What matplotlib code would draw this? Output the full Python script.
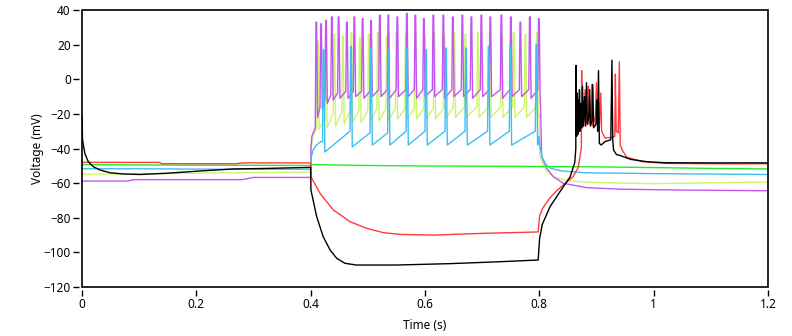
import matplotlib
matplotlib.use("Agg")
import matplotlib.pyplot as plt
from matplotlib.patches import Rectangle
from matplotlib.ticker import FuncFormatter

# ---- data (time in s, voltage in mV) ----

# black: hyperpolarising step, rebound burst
black_t = [0.0, 0.001, 0.005, 0.011, 0.0198, 0.0315, 0.049, 0.0723, 0.1015, 0.148, 0.206, 0.265, 0.323, 0.4,
           0.4005, 0.4106, 0.422, 0.434, 0.4455, 0.46, 0.48, 0.55, 0.644, 0.731, 0.798,
           0.8005, 0.805, 0.8187, 0.836, 0.854, 0.862, 0.8638,
           0.8642, 0.8652, 0.8662, 0.8672, 0.8682, 0.8692, 0.8702, 0.8712, 0.8725, 0.874, 0.8755, 0.877,
           0.879, 0.8805, 0.8825, 0.884, 0.8865, 0.888, 0.8895, 0.892, 0.8935, 0.895, 0.899, 0.9005, 0.902,
           0.9035, 0.905, 0.908, 0.915, 0.925, 0.927, 0.9285, 0.93, 0.935, 0.941, 0.96, 0.988, 1.02, 1.1, 1.2]
black_v = [-20.7, -35.0, -42.8, -47.6, -50.5, -52.4, -54.0, -54.7, -55.0, -54.3, -53.0, -51.8, -51.5, -50.9,
           -64.0, -79.4, -91.0, -98.6, -103.4, -106.3, -107.3, -107.3, -106.5, -105.4, -104.4,
           -92.0, -84.0, -73.6, -65.0, -56.3, -48.0, -40.0,
           8.0, -33.0, -8.0, -32.0, -12.0, -30.0, -6.0, -30.0, -14.0, -28.0, -4.0, -27.0,
           -10.0, -27.0, -2.0, -26.0, -22.0, -6.0, -27.0, -24.0, -3.0, -28.0, -26.0, -12.0, -30.0,
           5.0, -37.0, -38.0, -36.0, -35.0, 11.0, -36.0, -41.0, -43.5, -44.0, -46.3, -47.6, -48.2, -48.3, -48.3]

# red: smaller hyperpolarising step, rebound burst
red_t = [0.0, 0.135, 0.14, 0.27, 0.28, 0.4,
         0.4005, 0.4164, 0.4397, 0.469, 0.498, 0.527, 0.556, 0.615, 0.702, 0.798,
         0.8005, 0.805, 0.813, 0.8187, 0.83, 0.842, 0.859, 0.868, 0.8735,
         0.874, 0.8755, 0.8785, 0.88, 0.8815, 0.8845, 0.8857, 0.887, 0.89, 0.8916, 0.893, 0.898, 0.9,
         0.9015, 0.905, 0.9075, 0.909, 0.915, 0.928, 0.932, 0.933, 0.9345, 0.938, 0.94, 0.9415,
         0.945, 0.953, 0.98, 1.02, 1.1, 1.2]
red_v = [-48.0, -48.0, -48.8, -48.8, -48.3, -48.3,
         -56.3, -65.9, -75.5, -82.3, -86.1, -88.6, -89.6, -90.0, -89.0, -88.2,
         -79.0, -75.0, -71.0, -68.5, -64.5, -61.0, -56.3, -51.0, -40.0,
         5.0, -28.0, -22.0, -6.0, -27.0, -22.0, -4.0, -26.0, -22.0, -3.0, -27.0, -22.0, -2.0,
         -25.0, -28.0, -8.0, -30.0, -34.0, -33.5, -33.0, 3.0, -30.0, -31.0, 10.0, -38.0,
         -41.0, -45.0, -47.6, -48.6, -48.8, -48.8]

# green: no firing
green_t = [0.0, 0.1, 0.2, 0.4, 0.401, 0.5, 0.6, 0.7, 0.8, 0.9, 1.0, 1.1, 1.2]
green_v = [-49.3, -49.5, -49.6, -49.8, -49.3, -49.8, -50.1, -50.2, -50.4, -50.6, -51.0, -51.5, -51.8]

# blue: slow tonic firing
blue_on_t = [0.0, 0.1, 0.25, 0.4, 0.4005, 0.404, 0.41, 0.418]
blue_on_v = [-51.7, -51.7, -52.0, -52.0, -46.0, -41.0, -38.0, -36.0]
blue_spk_t = [0.4221, 0.4700, 0.5050, 0.5358, 0.5680, 0.6012, 0.6362, 0.6712, 0.7107, 0.7487, 0.7942]
blue_peak = [17, 19, 18, 17, 18, 17, 18, 18, 19, 19, 20]
blue_trough = [-42, -39, -38, -38, -38, -38, -38, -38, -38, -38, -38]
blue_pre = [-36, -30, -31, -31, -30, -30, -30, -30, -30, -30, -30]
blue_off_t = [0.799, 0.8015, 0.806, 0.812, 0.82, 0.84, 0.88, 1.0, 1.2]
blue_off_v = [-33.0, -40.0, -46.0, -49.5, -51.5, -53.0, -54.0, -54.5, -55.0]

# yellow-green: faster tonic firing
yellow_on_t = [0.0, 0.2, 0.38, 0.4, 0.4005, 0.405]
yellow_on_v = [-54.9, -54.3, -53.6, -53.6, -40.0, -32.0]
yellow_spk_t = [0.4120, 0.4260, 0.4408, 0.4557, 0.4706, 0.4854, 0.5012, 0.5169, 0.5327, 0.5493, 0.5659, 0.5825,
                0.5991, 0.6158, 0.6332, 0.6507, 0.6700, 0.6919, 0.7128, 0.7338, 0.7545, 0.7750, 0.7954]
yellow_peak = [22, 24, 26, 25, 27, 24, 26, 27, 25, 27, 26, 27, 25, 27, 26, 27, 26, 27, 27, 26, 27, 26, 27]
yellow_trough = [-29, -28, -27, -26, -25, -25, -24, -24, -24, -23, -23, -23, -23, -23, -23, -22, -22, -22,
                 -22, -22, -22, -22, -22]
yellow_pre = [-28, -22, -20, -19, -18, -18, -18, -17, -17, -17, -17, -17, -17, -17, -17, -16, -16, -16,
              -16, -16, -16, -16, -16]
yellow_off_t = [0.7995, 0.801, 0.8105, 0.8245, 0.85, 0.883, 0.95, 1.0, 1.1, 1.2]
yellow_off_v = [-20.0, -44.7, -52.4, -56.3, -58.6, -59.5, -60.0, -60.3, -59.8, -59.4]

# purple: fastest tonic firing
purple_on_t = [0.0, 0.08, 0.09, 0.28, 0.3, 0.4, 0.4005, 0.402]
purple_on_v = [-58.8, -58.8, -58.0, -58.0, -56.7, -56.7, -40.0, -33.0]
purple_spk_t = [0.4093, 0.4176, 0.4263, 0.4365, 0.4484, 0.4627, 0.4758, 0.4903, 0.5050, 0.5204, 0.5353,
                0.5510, 0.5677, 0.5825, 0.5974, 0.6140, 0.6315, 0.6481, 0.6647, 0.6805, 0.6980, 0.7137,
                0.7330, 0.7496, 0.7662, 0.7828, 0.7986]
purple_peak = [33, 32, 34, 36, 36, 33, 36, 35, 34, 37, 37, 36, 38, 37, 35, 37, 37, 36, 37, 36, 37, 36,
               37, 36, 33, 36, 35]
purple_trough = [-22, -17, -14, -12, -11, -11, -10, -11, -10, -10, -11, -10, -10, -11, -10, -10, -11, -10,
                 -10, -11, -10, -10, -11, -10, -10, -11, -10]
purple_pre = [-28, -16, -12, -9, -8, -7, -7, -7, -7, -6, -6, -6, -6, -6, -6, -6, -6, -6,
              -6, -6, -6, -6, -6, -6, -6, -6, -6]
purple_off_t = [0.8025, 0.804, 0.813, 0.8245, 0.842, 0.883, 0.941, 1.05, 1.2]
purple_off_v = [-20.0, -44.7, -51.5, -56.3, -60.1, -62.6, -63.5, -64.0, -64.4]

x_ticks = [0, 0.2, 0.4, 0.6, 0.8, 1.0, 1.2]
y_ticks = [-120, -100, -80, -60, -40, -20, 0, 20, 40]


def spike_trace(on_t, on_v, spk_t, peak, trough, pre, off_t, off_v):
    """Join the read-off spike features into one polyline."""
    ts = list(on_t)
    vs = list(on_v)
    for t, pk, tr, pr in zip(spk_t, peak, trough, pre):
        # flat top a pixel wide, then down to the after-hyperpolarisation
        ts += [t - 0.0012, t, t + 0.0012, t + 0.0028]
        vs += [pr, pk, pk, tr]
    ts += list(off_t)
    vs += list(off_v)
    return ts, vs


def main():
    plt.rcParams['font.family'] = ['Noto Sans', 'DejaVu Sans']
    fig = plt.figure(figsize=(7.92, 3.36), dpi=100)
    ax = fig.add_axes([0.1035, 0.1458, 0.8662, 0.8244])

    lw = 1.0
    yt, yv = spike_trace(yellow_on_t, yellow_on_v, yellow_spk_t, yellow_peak, yellow_trough, yellow_pre,
                         yellow_off_t, yellow_off_v)
    pt, pv = spike_trace(purple_on_t, purple_on_v, purple_spk_t, purple_peak, purple_trough, purple_pre,
                         purple_off_t, purple_off_v)
    bt, bv = spike_trace(blue_on_t, blue_on_v, blue_spk_t, blue_peak, blue_trough, blue_pre,
                         blue_off_t, blue_off_v)

    ax.plot(yt, yv, color='#ccf56a', lw=lw)
    ax.plot(pt, pv, color='#c455f2', lw=lw)
    ax.plot(bt, bv, color='#3dbef5', lw=lw)
    ax.plot(green_t, green_v, color='#22ee22', lw=lw)
    ax.plot(red_t, red_v, color='#ff3b3b', lw=lw)
    ax.plot(black_t, black_v, color='black', lw=lw)

    ax.set_xlim(0, 1.2)
    ax.set_ylim(-120, 40)
    ax.set_xticks(x_ticks)
    ax.set_yticks(y_ticks)
    ax.xaxis.set_major_formatter(FuncFormatter(lambda v, p: f"{v:g}"))

    # frame drawn as a box, ticks sit a little off it
    for side in ['bottom', 'left']:
        ax.spines[side].set_position(('outward', 2))
        ax.spines[side].set_visible(False)
    for side in ['top', 'right']:
        ax.spines[side].set_visible(False)
    ax.add_patch(Rectangle((0, 0), 1, 1, transform=ax.transAxes, fill=False,
                           edgecolor='black', lw=1.2, clip_on=False, zorder=5))

    ax.tick_params(direction='out', length=4, width=1, pad=2, labelsize=8.5, colors='black')
    ax.set_xlabel("Time (s)", fontsize=8.5, labelpad=6)
    ax.set_ylabel("Voltage (mV)", fontsize=8.5, labelpad=0)

    fig.savefig("out.png", dpi=100)


if __name__ == "__main__":
    main()
